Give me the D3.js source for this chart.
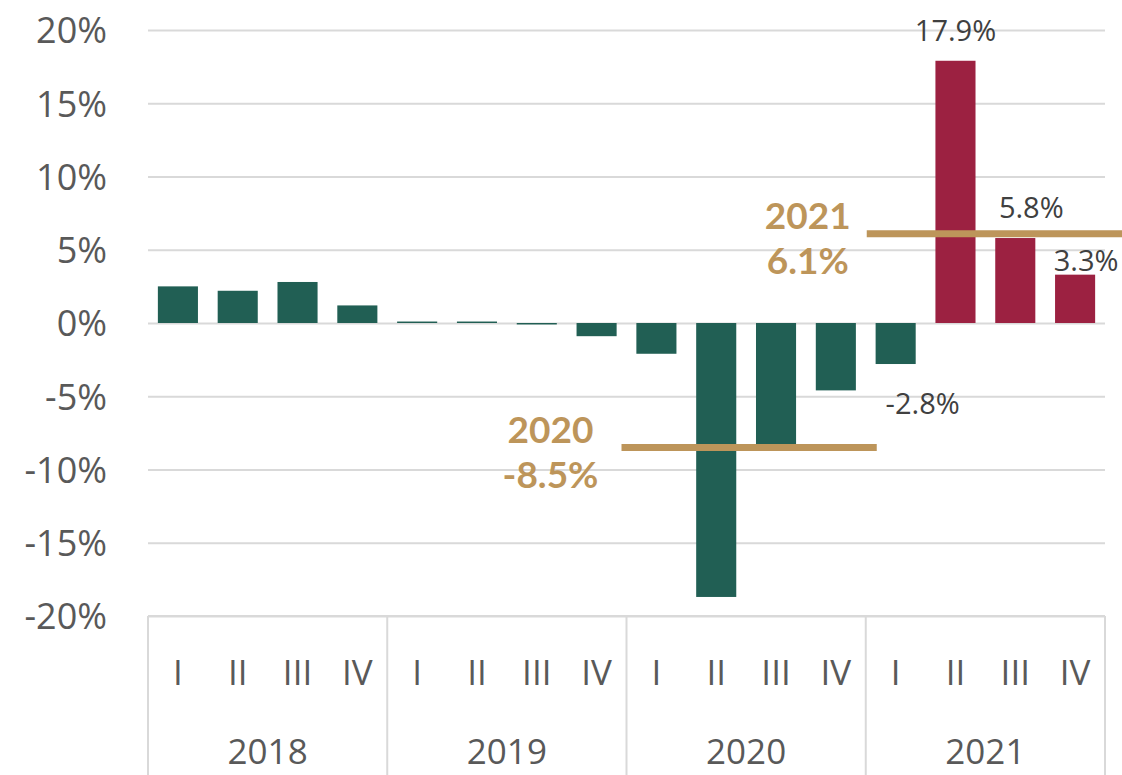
<!DOCTYPE html>
<html>
<head>
<meta charset="utf-8">
<script src="https://cdn.jsdelivr.net/npm/d3@7"></script>
<style>
  html, body { margin: 0; padding: 0; background: #ffffff; }
  svg { display: block; }
</style>
</head>
<body>
<svg id="chart" width="1122" height="775"></svg>
<script>
// ---------------- DATA ----------------
const years = ["2018", "2019", "2020", "2021"];
const quarterLabels = ["I", "II", "III", "IV"];
const growth2018 = [2.5, 2.2, 2.8, 1.2];
const growth2019 = [0.1, 0.1, -0.1, -0.9];
const growth2020 = [-2.1, -18.7, -8.4, -4.6];
const growth2021 = [-2.8, 17.9, 5.8, 3.3];
const highlighted2021 = [false, true, true, true];
const labelled2021 = [true, true, true, true];
const yTicks = [-20, -15, -10, -5, 0, 5, 10, 15, 20];
const annualYears = ["2020", "2021"];
const annualValues = [-8.5, 6.1];

// ---------------- LAYOUT / STYLE ----------------
const W = 1122, H = 775;
const plotLeft = 148, plotRight = 1105, plotTop = 30, plotBottom = 616;
const green = "#215f54", red = "#9c2141", gold = "#bd955a";
const gridColor = "#d9d9d9", axisText = "#595959", labelText = "#404040";
const fontRegular = "'Open Sans', 'DejaVu Sans', sans-serif";
const fontBold = "Lato, 'Open Sans', sans-serif";

const seriesByYear = [growth2018, growth2019, growth2020, growth2021];
const rows = [];
years.forEach((y, yi) => {
  seriesByYear[yi].forEach((v, qi) => {
    rows.push({
      key: y + "-" + qi, year: y, yi, qi, q: quarterLabels[qi], value: v,
      highlight: yi === 3 ? highlighted2021[qi] : false,
      labelled: yi === 3 ? labelled2021[qi] : false
    });
  });
});

const svg = d3.select("#chart");

const x = d3.scaleBand()
  .domain(rows.map(d => d.key))
  .range([plotLeft, plotRight])
  .paddingInner(0.33)
  .paddingOuter(0.165);

const y = d3.scaleLinear().domain([-20, 20]).range([plotBottom, plotTop]);

// gridlines + y axis labels
const yAxis = d3.axisLeft(y)
  .tickValues(yTicks)
  .tickSize(-(plotRight - plotLeft))
  .tickPadding(41)
  .tickFormat(d => d + "%");

const gy = svg.append("g")
  .attr("transform", `translate(${plotLeft},0)`)
  .call(yAxis);
gy.select(".domain").remove();
gy.selectAll(".tick line").attr("stroke", gridColor).attr("stroke-width", 2);
gy.selectAll(".tick text")
  .attr("fill", axisText)
  .attr("font-family", fontRegular)
  .attr("font-size", 36)
  .attr("dy", "0.36em");

// bars
svg.append("g").selectAll("rect")
  .data(rows)
  .join("rect")
  .attr("x", d => x(d.key))
  .attr("width", x.bandwidth())
  .attr("y", d => y(Math.max(0, d.value)))
  .attr("height", d => Math.max(1, Math.abs(y(d.value) - y(0))))
  .attr("fill", d => d.highlight ? red : green);

// data labels for 2021 (offsets to mimic reference placement)
const labelOffsets = {
  0: { dx: 27, dy: 50 },
  1: { dx: 0, dy: -20 },
  2: { dx: 16, dy: -20 },
  3: { dx: 11, dy: -4 }
};
svg.append("g").selectAll("text")
  .data(rows.filter(d => d.labelled))
  .join("text")
  .attr("x", d => x(d.key) + x.bandwidth() / 2 + labelOffsets[d.qi].dx)
  .attr("y", d => y(d.value) + labelOffsets[d.qi].dy)
  .attr("text-anchor", "middle")
  .attr("fill", labelText)
  .attr("font-family", fontRegular)
  .attr("font-size", 29)
  .text(d => d.value.toFixed(1) + "%");

// category axis (quarters + years) with separators
const axisG = svg.append("g");
axisG.append("line")
  .attr("x1", plotLeft).attr("x2", plotRight)
  .attr("y1", plotBottom).attr("y2", plotBottom)
  .attr("stroke", gridColor).attr("stroke-width", 2);

const step = x.step();
const groupBounds = years.map(yr => {
  const first = x(yr + "-0"), last = x(yr + "-3") + x.bandwidth();
  const pad = (step - x.bandwidth()) / 2;
  return [first - pad, last + pad];
});

const sepX = [groupBounds[0][0]].concat(groupBounds.map(b => b[1]));
axisG.selectAll("line.sep")
  .data(sepX)
  .join("line")
  .attr("class", "sep")
  .attr("x1", d => d).attr("x2", d => d)
  .attr("y1", plotBottom).attr("y2", H)
  .attr("stroke", gridColor).attr("stroke-width", 2);

axisG.selectAll("text.q")
  .data(rows)
  .join("text")
  .attr("class", "q")
  .attr("x", d => x(d.key) + x.bandwidth() / 2)
  .attr("y", 685)
  .attr("text-anchor", "middle")
  .attr("fill", axisText)
  .attr("font-family", fontRegular)
  .attr("font-size", 35)
  .text(d => d.q);

axisG.selectAll("text.yr")
  .data(years)
  .join("text")
  .attr("class", "yr")
  .attr("x", (d, i) => (groupBounds[i][0] + groupBounds[i][1]) / 2)
  .attr("y", 764)
  .attr("text-anchor", "middle")
  .attr("fill", axisText)
  .attr("font-family", fontRegular)
  .attr("font-size", 35)
  .text(d => d);

// annual average lines + annotations
const annualLayout = [
  { x1: -5, x2: 11, tx: -76 },
  { x1: 1, x2: 17, tx: -58 }
];
annualYears.forEach((yr, i) => {
  const yi = years.indexOf(yr);
  const b = groupBounds[yi];
  const ly = y(annualValues[i]);
  const L = annualLayout[i];
  svg.append("line")
    .attr("x1", b[0] + L.x1).attr("x2", b[1] + L.x2)
    .attr("y1", ly).attr("y2", ly)
    .attr("stroke", gold).attr("stroke-width", 7);
  const lines = [yr, annualValues[i].toFixed(1) + "%"];
  lines.forEach((txt, li) => {
    svg.append("text")
      .attr("x", b[0] + L.tx)
      .attr("y", ly - 5 + li * 45)
      .attr("text-anchor", "middle")
      .attr("fill", gold)
      .attr("font-family", fontBold)
      .attr("font-weight", 700)
      .attr("font-size", 37)
      .text(txt);
  });
});
</script>
</body>
</html>
